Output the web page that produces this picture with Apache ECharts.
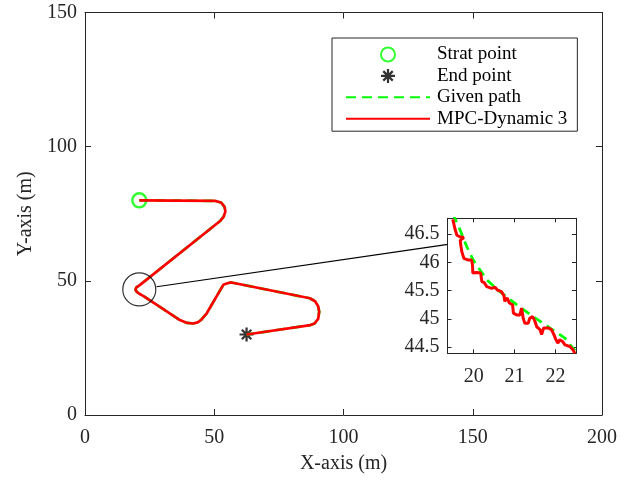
<!DOCTYPE html>
<html>
<head>
<meta charset="utf-8">
<script src="https://cdn.jsdelivr.net/npm/echarts@6/dist/echarts.min.js"></script>
<style>html,body{margin:0;padding:0;background:#fff}#c{width:636px;height:481px}</style>
</head>
<body>
<div id="c"></div>
<script>
// ---- data ----
const startPoint = [21, 80];
const endPoint = [62.5, 30];
const pathX = [21, 50.3, 52.6, 54.0, 54.3, 53.6, 52.4, 21.3, 19.9, 19.3, 19.5, 20, 21, 22.5, 30, 36.7, 39.5, 41.9, 43.6, 45.0, 47.1, 53.5, 54.8, 56.2, 57.6, 87, 89.0, 90.2, 90.6, 90.2, 88.8, 87.2, 62.5];
const pathY = [80, 79.8, 79.2, 77.6, 75.8, 73.8, 72.4, 48.5, 47.6, 47.1, 46.7, 45.95, 45.2, 44.4, 39.6, 35.4, 34.3, 34.1, 34.5, 35.5, 37.9, 48.5, 49.0, 49.4, 49.2, 43.5, 42.4, 40.5, 38.5, 35.8, 34.1, 33.5, 30];
const zoomCenter = [21, 46.8];
const connectorX = [27.7, 140.4];
const connectorY = [47.8, 63.6];
const insetMpcX = [19.49, 19.54, 19.59, 19.67, 19.76, 19.67, 19.69, 19.71, 19.76, 19.87, 19.95, 19.97, 19.98, 20.07, 20.17, 20.2, 20.26, 20.32, 20.44, 20.52, 20.58, 20.68, 20.74, 20.76, 20.82, 20.87, 20.95, 20.97, 21.05, 21.13, 21.17, 21.21, 21.25, 21.33, 21.37, 21.44, 21.5, 21.54, 21.62, 21.66, 21.71, 21.82, 21.9, 21.96, 22.01, 22.06, 22.1, 22.17, 22.23, 22.35, 22.43, 22.47];
const insetMpcY = [46.76, 46.6, 46.48, 46.45, 46.44, 46.39, 46.28, 46.19, 46.07, 46.04, 46.04, 45.95, 45.81, 45.82, 45.81, 45.66, 45.64, 45.57, 45.54, 45.56, 45.51, 45.48, 45.41, 45.31, 45.37, 45.28, 45.25, 45.1, 45.07, 45.07, 45.19, 45.01, 44.92, 44.92, 45.01, 45.04, 44.95, 44.86, 44.81, 44.72, 44.84, 44.84, 44.81, 44.72, 44.63, 44.57, 44.63, 44.6, 44.54, 44.51, 44.45, 44.39];
const insetGivenX = [19.5, 19.54, 19.67, 19.83, 19.99, 20.32, 20.64, 21.05, 21.45, 21.86, 22.23, 22.39, 22.48];
const insetGivenY = [46.86, 46.78, 46.57, 46.28, 46.04, 45.69, 45.48, 45.25, 45.04, 44.84, 44.66, 44.51, 44.44];
const xTicks = [0, 50, 100, 150, 200];
const yTicks = [0, 50, 100, 150];
const insetXTicks = [20, 21, 22];
const insetYTicks = [44.5, 45, 45.5, 46, 46.5];
const legendNames = ['Strat point', 'End point', 'Given path', 'MPC-Dynamic 3'];

const zip = (a, b) => a.map((v, i) => [v, b[i]]);
const FONT = 'Liberation Serif, Times New Roman, serif';
const AX = '#262626';
const starPath = 'path://M8.4,0L11.6,0L11.6,20L8.4,20Z M0,8.4L20,8.4L20,11.6L0,11.6Z M2.1,4.4L4.4,2.1L17.9,15.6L15.6,17.9Z M15.6,2.1L17.9,4.4L4.4,17.9L2.1,15.6Z';

function axisBase(extra) {
  return Object.assign({
    type: 'value',
    axisLine: { show: true, onZero: false, lineStyle: { color: AX, width: 1 } },
    axisTick: { show: true, inside: true, length: 6, lineStyle: { color: AX, width: 1 } },
    axisLabel: { show: false },
    splitLine: { show: false }
  }, extra);
}
const lbl = (margin, extra) => Object.assign({ show: true, color: AX, fontFamily: FONT, fontSize: 20, margin: margin }, extra || {});

const chart = echarts.init(document.getElementById('c'), null, { renderer: 'canvas' });
chart.setOption({
  animation: false,
  backgroundColor: '#fff',
  grid: [
    { left: 85, right: 34, top: 12.5, bottom: 66, containLabel: false },
    { left: 447.5, right: 60, top: 218.3, bottom: 127.7, show: true, backgroundColor: '#fff', borderWidth: 0, containLabel: false, z: 5 }
  ],
  xAxis: [
    axisBase({ gridIndex: 0, position: 'bottom', min: 0, max: 200, interval: 50,
      axisLabel: lbl(13), name: 'X-axis (m)', nameLocation: 'middle', nameGap: 39,
      nameTextStyle: { color: AX, fontFamily: FONT, fontSize: 20 } }),
    axisBase({ gridIndex: 0, position: 'top', min: 0, max: 200, interval: 50 }),
    axisBase({ gridIndex: 1, position: 'bottom', min: 19.36, max: 22.5, z: 6,
      axisLabel: lbl(13, { customValues: insetXTicks }),
      axisTick: { show: true, inside: true, length: 4, customValues: insetXTicks, lineStyle: { color: AX } } }),
    axisBase({ gridIndex: 1, position: 'top', min: 19.36, max: 22.5, z: 6,
      axisTick: { show: true, inside: true, length: 4, customValues: insetXTicks, lineStyle: { color: AX } } })
  ],
  yAxis: [
    axisBase({ gridIndex: 0, position: 'left', min: 0, max: 150, interval: 50,
      axisLabel: lbl(8), name: 'Y-axis (m)', nameLocation: 'middle', nameGap: 47,
      nameTextStyle: { color: AX, fontFamily: FONT, fontSize: 20 } }),
    axisBase({ gridIndex: 0, position: 'right', min: 0, max: 150, interval: 50 }),
    axisBase({ gridIndex: 1, position: 'left', min: 44.39, max: 46.78, z: 6,
      axisLabel: lbl(8, { customValues: insetYTicks }),
      axisTick: { show: true, inside: true, length: 4, customValues: insetYTicks, lineStyle: { color: AX } } }),
    axisBase({ gridIndex: 1, position: 'right', min: 44.39, max: 46.78, z: 6,
      axisTick: { show: true, inside: true, length: 4, customValues: insetYTicks, lineStyle: { color: AX } } })
  ],
  legend: {
    orient: 'vertical', left: 332, top: 38,
    data: [
      { name: legendNames[0] },
      { name: legendNames[1] },
      { name: legendNames[2], itemStyle: { opacity: 0 } },
      { name: legendNames[3], itemStyle: { opacity: 0 } }
    ],
    itemWidth: 84, itemHeight: 14, itemGap: 0.4,
    padding: [6, 10, 2, 13],
    borderColor: AX, borderWidth: 1, backgroundColor: '#fff',
    selectedMode: false,
    textStyle: { color: '#000', fontFamily: FONT, fontSize: 19, lineHeight: 21, padding: [0, 0, 0, 2] }
  },
  series: [
    { name: legendNames[0], type: 'scatter', xAxisIndex: 0, yAxisIndex: 0, z: 2,
      symbol: 'circle', symbolSize: 14, data: [startPoint],
      itemStyle: { color: 'rgba(0,0,0,0)', borderColor: '#00ff00', borderWidth: 2.5 } },
    { name: legendNames[1], type: 'scatter', xAxisIndex: 0, yAxisIndex: 0, z: 2,
      symbol: starPath, symbolSize: 14, data: [endPoint],
      itemStyle: { color: '#000' } },
    { name: legendNames[2], type: 'line', xAxisIndex: 0, yAxisIndex: 0, z: 3,
      symbol: 'none', data: zip(pathX, pathY),
      lineStyle: { color: '#00ff00', width: 2.7, type: [10, 6] }, itemStyle: { color: '#00ff00' } },
    { name: legendNames[3], type: 'line', xAxisIndex: 0, yAxisIndex: 0, z: 4,
      symbol: 'none', data: zip(pathX, pathY),
      lineStyle: { color: '#ff0000', width: 2.7 }, itemStyle: { color: '#ff0000' } },
    { name: 'zoom circle', type: 'scatter', xAxisIndex: 0, yAxisIndex: 0, z: 5,
      symbol: 'circle', symbolSize: 33, data: [zoomCenter], silent: true,
      itemStyle: { color: 'rgba(0,0,0,0)', borderColor: '#000', borderWidth: 1.2 } },
    { name: 'connector', type: 'line', xAxisIndex: 0, yAxisIndex: 0, z: 5,
      symbol: 'none', data: zip(connectorX, connectorY), silent: true,
      lineStyle: { color: '#000', width: 1.2 } },
    { name: 'inset given', type: 'line', xAxisIndex: 2, yAxisIndex: 2, z: 7,
      symbol: 'none', data: zip(insetGivenX, insetGivenY), clip: true,
      lineStyle: { color: '#00ff00', width: 2.8, type: [9, 6] } },
    { name: 'inset mpc', type: 'line', xAxisIndex: 2, yAxisIndex: 2, z: 8,
      symbol: 'none', data: zip(insetMpcX, insetMpcY), clip: true,
      lineStyle: { color: '#ff0000', width: 3 } }
  ]
});
</script>
</body>
</html>
